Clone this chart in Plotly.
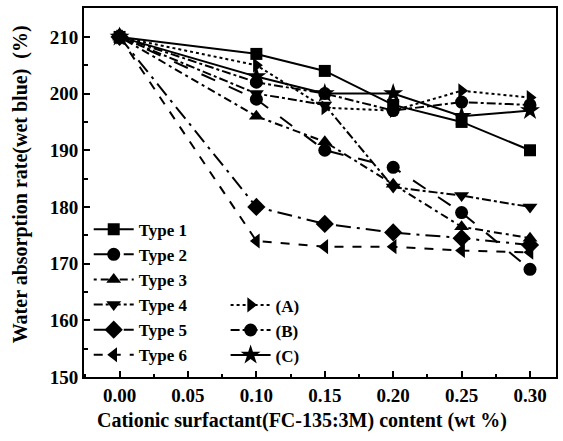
import plotly.graph_objects as go

x = [0.00, 0.10, 0.15, 0.20, 0.25, 0.30]
type1 = [210, 207, 204, 198, 195, 190]
type2 = [210, 199, 190, 187, 179, 169]
type3 = [210, 196, 191.5, 184, 176.5, 174.5]
type4 = [210, 200, 198, 183.5, 182, 180]
type5 = [210, 180, 177, 175.5, 174.5, 173.3]
type6 = [210, 174, 173, 173, 172.3, 172]
seriesA = [210, 205, 197.5, 197, 200.5, 199.3]
seriesB = [210, 202, 200, 197, 198.5, 198]
seriesC = [210, 203, 200, 200, 196, 197]

names = ["Type 1", "Type 2", "Type 3", "Type 4", "Type 5", "Type 6", "(A)", "(B)", "(C)"]
data = [type1, type2, type3, type4, type5, type6, seriesA, seriesB, seriesC]
symbols = ["square", "circle", "triangle-up", "triangle-down", "diamond",
           "triangle-left", "triangle-right", "circle", "star"]
dashes = ["solid", "longdash", "3px,4px,8px,4px", "dashdot", "longdashdot",
          "dash", "dot", "dashdot", "solid"]
msizes = [12, 13, 13, 13, 14, 13, 13, 13, 15]

xtitle = "Cationic surfactant(FC-135:3M) content (wt %)"
ytitle = "Water absorption rate(wet blue)  (%)"

fig = go.Figure()
for i, (n, d, s, ds, ms) in enumerate(zip(names, data, symbols, dashes, msizes)):
    fig.add_trace(go.Scatter(
        x=x, y=d, name=n, mode="lines+markers",
        line=dict(color="black", width=2, dash=ds),
        marker=dict(color="black", symbol=s, size=ms),
        legend="legend" if i < 6 else "legend2",
    ))

legfont = dict(family="Liberation Serif", size=17, color="black", weight="bold")
tickfont = dict(family="Liberation Serif", size=19, color="black", weight="bold")
titlefont = dict(family="Liberation Serif", size=20, color="black", weight="bold")

fig.update_layout(
    width=563, height=441,
    margin=dict(l=84, r=5, t=8, b=64),
    paper_bgcolor="white", plot_bgcolor="white",
    font=dict(family="Liberation Serif", size=17, color="black"),
    showlegend=True,
    legend=dict(x=0.01, y=0.448, xanchor="left", yanchor="top",
                bgcolor="rgba(0,0,0,0)", font=legfont,
                tracegroupgap=0, itemwidth=40),
    legend2=dict(x=0.3, y=0.243, xanchor="left", yanchor="top",
                 bgcolor="rgba(0,0,0,0)", font=legfont,
                 tracegroupgap=0, itemwidth=40),
    annotations=[
        dict(text=xtitle, xref="paper", yref="paper", x=0.462, y=-0.119,
             xanchor="center", yanchor="middle", showarrow=False, font=titlefont),
        dict(text=ytitle, xref="paper", yref="paper", x=-0.135, y=0.523,
             xanchor="center", yanchor="middle", textangle=-90, showarrow=False, font=titlefont),
    ],
)

fig.update_xaxes(
    range=[-0.026, 0.319],
    tickvals=[0.00, 0.05, 0.10, 0.15, 0.20, 0.25, 0.30],
    ticktext=["0.00", "0.05", "0.10", "0.15", "0.20", "0.25", "0.30"],
    ticks="inside", ticklen=6, tickwidth=1.5, tickcolor="black",
    showline=True, linecolor="black", linewidth=2, mirror=True,
    showgrid=False, zeroline=False,
    tickfont=tickfont,
    minor=dict(ticks="inside", ticklen=3, tickcolor="black", dtick=0.025),
)
fig.update_yaxes(
    range=[150, 215.1],
    tickvals=[150, 160, 170, 180, 190, 200, 210],
    ticks="inside", ticklen=6, tickwidth=1.5, tickcolor="black",
    showline=True, linecolor="black", linewidth=2, mirror=True,
    showgrid=False, zeroline=False,
    tickfont=tickfont,
    minor=dict(ticks="inside", ticklen=4, tickcolor="black", dtick=5),
)

fig.write_html("out.html")
